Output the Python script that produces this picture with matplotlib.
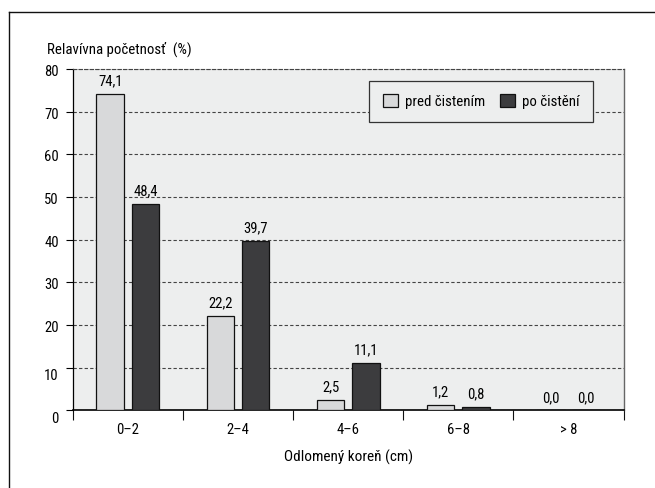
import matplotlib.pyplot as plt
import numpy as np
from matplotlib.patches import Patch
from matplotlib.lines import Line2D
from matplotlib.transforms import ScaledTranslation

plt.rcParams['font.family'] = ['Roboto Condensed', 'Roboto', 'DejaVu Sans']
plt.rcParams['font.size'] = 10

# data
kategorie = ['0\u20132', '2\u20134', '4\u20136', '6\u20138', '> 8']
pred = [74.1, 22.2, 2.5, 1.2, 0.0]
po = [48.4, 39.7, 11.1, 0.8, 0.0]
popisky_pred = ['74,1', '22,2', '2,5', '1,2', '0,0']
popisky_po = ['48,4', '39,7', '11,1', '0,8', '0,0']

fig = plt.figure(figsize=(6.55, 4.88), dpi=100, facecolor='white')
ax = fig.add_axes([0.111, 0.159, 0.841, 0.700])
ax.set_facecolor('#edeeee')

x = np.arange(len(kategorie))
sirka = 0.25
ax.bar(x - 0.16, pred, sirka, color='#d8d9da', edgecolor='#111111', linewidth=0.9, zorder=3)
ax.bar(x + 0.16, po, sirka, color='#3c3c3e', edgecolor='#111111', linewidth=0.9, zorder=3)

for i in range(len(kategorie)):
    ax.annotate(popisky_pred[i], (x[i] - 0.16, pred[i]), xytext=(0, 4), textcoords='offset points',
                ha='center', va='bottom', fontsize=10.5)
    ax.annotate(popisky_po[i], (x[i] + 0.16, po[i]), xytext=(0, 4), textcoords='offset points',
                ha='center', va='bottom', fontsize=10.5)

ax.set_xlim(-0.5, 4.5)
ax.set_ylim(0, 80)
ax.set_yticks(range(0, 81, 10))
ax.yaxis.grid(True, color='#444444', linestyle=(0, (3, 2)), linewidth=0.8, zorder=1)
ax.set_axisbelow(True)

ax.set_xticks(x)
ax.set_xticklabels(kategorie, fontsize=10.5)
ax.set_xticks(np.arange(-0.5, 5, 1), minor=True)
ax.tick_params(axis='x', which='major', length=0, pad=9)
ax.tick_params(axis='x', which='minor', length=7, width=0.8, color='#111111')
ax.tick_params(axis='y', length=5, width=0.8, pad=5, labelsize=10.5)

# popisky 0 a 10 sú v predlohe trochu nižšie
fig.canvas.draw()
for lab in ax.get_yticklabels():
    posun = 7 if lab.get_text() in ('0', '10') else 1.5
    lab.set_transform(lab.get_transform() + ScaledTranslation(0, -posun / 100, fig.dpi_scale_trans))

ax.spines['top'].set_linestyle((0, (3, 2)))
ax.spines['top'].set_color('#444444')
ax.spines['top'].set_linewidth(0.8)
ax.spines['right'].set_color('#666666')
ax.spines['right'].set_linewidth(1.0)
ax.spines['left'].set_linewidth(0.9)
ax.spines['bottom'].set_linewidth(1.2)

ax.set_xlabel('Odlomený koreň (cm)', labelpad=9, fontsize=11)
fig.text(47 / 655, 1 - 49 / 488, 'Relavívna početnosť  (%)', ha='left', va='center', fontsize=10.7)

handles = [Patch(facecolor='#d8d9da', edgecolor='#111111', linewidth=0.9),
           Patch(facecolor='#3c3c3e', edgecolor='#111111', linewidth=0.9)]
leg = ax.legend(handles, ['pred čistením', 'po čistění'], ncol=2, loc='upper right',
                bbox_to_anchor=(0.945, 0.965), borderaxespad=0, fancybox=False,
                facecolor='#edeeee', edgecolor='#333333', framealpha=1, fontsize=10.7,
                handlelength=1.0, handleheight=1.0, handletextpad=0.5, columnspacing=1.0,
                borderpad=0.9)
leg.get_frame().set_linewidth(0.9)

# vonkajší rámik
fig.add_artist(Line2D([9 / 655, 1], [1 - 11.5 / 488, 1 - 11.5 / 488], color='#111111', linewidth=1.0))
fig.add_artist(Line2D([9 / 655, 9 / 655], [0, 1 - 11.5 / 488], color='#111111', linewidth=1.0))

fig.savefig('out.png', dpi=100, facecolor='white')
plt.close()
